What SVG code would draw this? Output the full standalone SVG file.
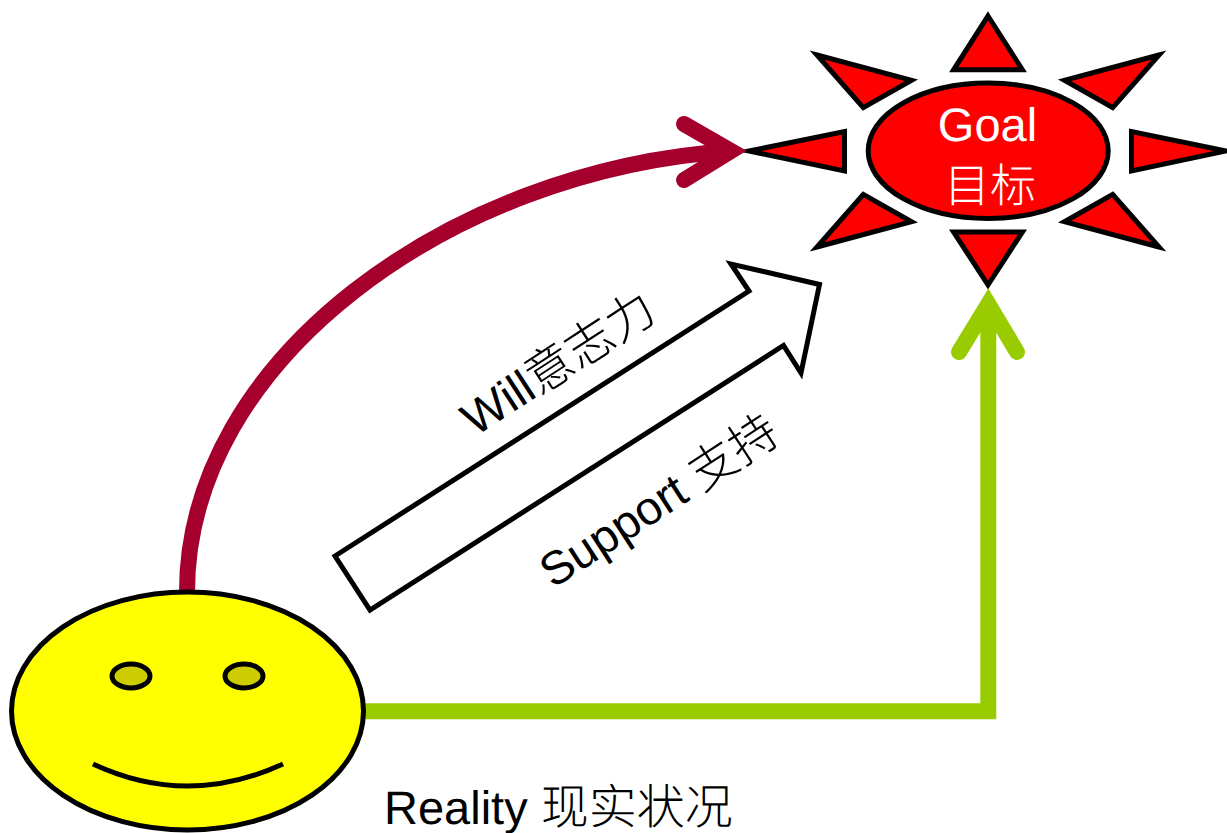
<svg xmlns="http://www.w3.org/2000/svg" width="1227" height="833" viewBox="0 0 1227 833">
<style>
.ray{fill:#ff0000;stroke:#000;stroke-width:5;stroke-linejoin:miter;stroke-miterlimit:12}
.o{stroke:#000;stroke-width:5;stroke-miterlimit:12}
.t{font-family:"Liberation Sans","Noto Sans CJK SC",sans-serif;font-size:47px;text-rendering:geometricPrecision}
.z{font-family:"Noto Sans CJK SC",sans-serif;font-size:48px;font-weight:200}
.w{stroke:#a5002d;fill:none;stroke-width:16;stroke-linecap:round;stroke-linejoin:miter;stroke-miterlimit:12}
.g{stroke:#99cc00;fill:none;stroke-width:16;stroke-linecap:round;stroke-linejoin:miter;stroke-miterlimit:12}
</style>
<g id="goal">
<polygon class="ray" points="988,16 1022.4,69.8 953.6,69.8"/>
<polygon class="ray" points="988,285 1022.4,232 953.6,232"/>
<polygon class="ray" points="749,151 844.5,131.5 844.5,171"/>
<polygon class="ray" points="1226,151 1131.5,131.5 1131.5,171"/>
<polygon class="ray" points="817,55 911.5,80.3 863.3,107.6"/>
<polygon class="ray" points="1159,55 1064.5,80.3 1112.7,107.6"/>
<polygon class="ray" points="817,247 911.5,221.7 863.3,194.4"/>
<polygon class="ray" points="1159,247 1064.5,221.7 1112.7,194.4"/>
<ellipse class="ray" cx="988.2" cy="150.8" rx="120" ry="67.7"/>
<text class="t" x="987.500" y="141" fill="#fff" text-anchor="middle">Goal</text>
<text class="t z" x="990" y="202" fill="#fff" text-anchor="middle" style="font-size:46px">目标</text>
</g>
<g id="connectors">
<path d="M187 592C187 360 450 170 730 151" style="stroke:#a5002d;fill:none;stroke-width:16"/>
<path class="w" d="M684 124L731 151L684 180"/>
<path d="M364 711.300H988.300V305" style="stroke:#99cc00;fill:none;stroke-width:16"/>
<path class="g" d="M959 352L988.300 304L1017 352"/>
</g>
<g id="reality">
<ellipse class="o" cx="187.500" cy="711" rx="176" ry="119" fill="#ffff00"/>
<ellipse class="o" cx="131" cy="676" rx="19" ry="12" fill="#cccc00"/>
<ellipse class="o" cx="244" cy="676" rx="19" ry="12" fill="#cccc00"/>
<path class="o" fill="none" d="M93 764Q187 808 283 764"/>
<text class="t" x="384" y="824">Reality <tspan class="z">现实状况</tspan></text>
</g>
<g id="arrow">
<polygon class="o" points="335,556 749,291 731,264 819.500,284.500 801,373 783.500,345.500 370,610" fill="#fff"/>
<text class="t" transform="translate(475 437) rotate(-33)">Will<tspan class="z">意志力</tspan></text>
<text class="t" transform="translate(553 589) rotate(-33)">Support <tspan class="z">支持</tspan></text>
</g>
</svg>
